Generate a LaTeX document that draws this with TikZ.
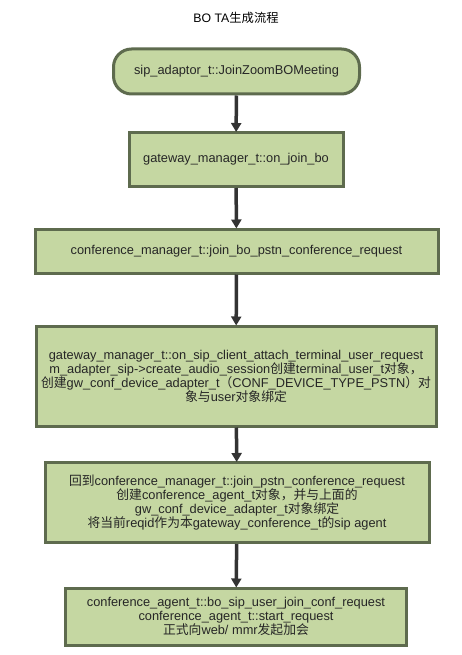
\documentclass[tikz,border=0pt]{standalone}
\usepackage{fontspec}
\setmainfont{Liberation Sans}
\newfontfamily\cjk{Noto Sans CJK SC}
\usetikzlibrary{arrows.meta}
\definecolor{boxfill}{HTML}{C5D7A2}
\definecolor{boxline}{HTML}{5E6B4E}
\definecolor{arrowc}{HTML}{333333}
\newcommand{\zh}[1]{{\cjk #1}}
\tikzset{
  flowbox/.style={draw=boxline, fill=boxfill, line width=3pt, align=center,
    font=\fontsize{12.8}{14}\selectfont, text=black!85, inner sep=0pt},
  flowarrow/.style={draw=arrowc, line width=3.5pt,
    -{Triangle[length=9pt,width=10pt]}, shorten >=-1pt}
}
\begin{document}
\begin{tikzpicture}[x=1pt,y=-1pt]
\useasboundingbox (0,0) rectangle (462,655);
\node[font=\fontsize{12.3}{14}\selectfont] (title) at (236,18) {BO TA\zh{生成流程}};
\node[flowbox, rounded corners=18pt, minimum width=246pt, minimum height=45pt] (n1) at (236.5,71.5)
  {sip\_adaptor\_t::JoinZoomBOMeeting};
\node[flowbox, minimum width=214pt, minimum height=54pt] (n2) at (236,159.5)
  {gateway\_manager\_t::on\_join\_bo};
\node[flowbox, minimum width=403pt, minimum height=44pt] (n3) at (236.5,251)
  {conference\_manager\_t::join\_bo\_pstn\_conference\_request};
\node[flowbox, minimum width=400pt, minimum height=100pt] (n4) at (236,376)
  {gateway\_manager\_t::on\_sip\_client\_attach\_terminal\_user\_request\\
   m\_adapter\_sip->create\_audio\_session\zh{创建}terminal\_user\_t\zh{对象，}\\
   \zh{创建}gw\_conf\_device\_adapter\_t\zh{（}CONF\_DEVICE\_TYPE\_PSTN\zh{）对}\\
   \zh{象与}user\zh{对象绑定}};
\node[flowbox, minimum width=384pt, minimum height=80pt] (n5) at (237,502.5)
  {\zh{回到}conference\_manager\_t::join\_pstn\_conference\_request\\
   \zh{创建}conference\_agent\_t\zh{对象，并与上面的}\\
   gw\_conf\_device\_adapter\_t\zh{对象绑定}\\
   \zh{将当前}reqid\zh{作为本}gateway\_conference\_t\zh{的}sip agent};
\node[flowbox, minimum width=341pt, minimum height=57pt] (n6) at (236,616.5)
  {conference\_agent\_t::bo\_sip\_user\_join\_conf\_request\\
   conference\_agent\_t::start\_request\\
   \zh{正式向}web/ mmr\zh{发起加会}};
\draw[flowarrow] (n1) -- (n2);
\draw[flowarrow] (n2) -- (n3);
\draw[flowarrow] (n3) -- (n4);
\draw[flowarrow] (n4) -- (n5);
\draw[flowarrow] (n5) -- (n6);
\end{tikzpicture}
\end{document}
